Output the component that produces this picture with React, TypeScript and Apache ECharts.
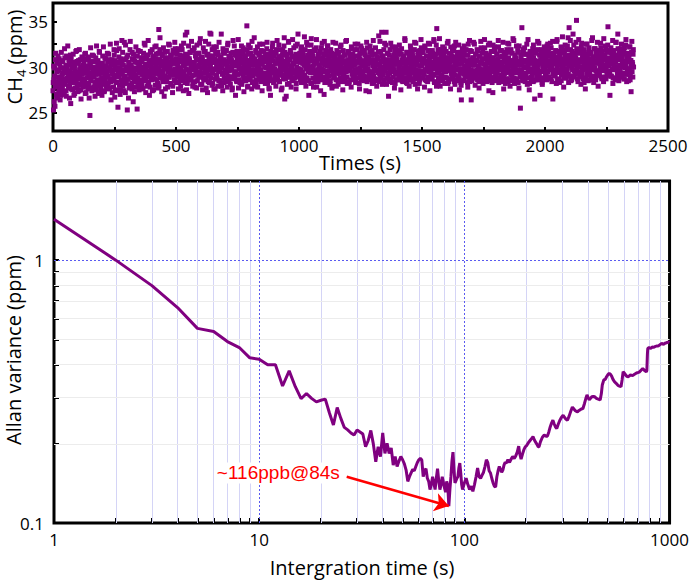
import React, { useEffect, useRef } from 'react';
import * as echarts from 'echarts';

// ---------- top panel: CH4 concentration time series (one reading per second; even & odd seconds) ----------
const sampleStepSeconds = 2;
const ch4From0 = [
  27.4, 25.3, 28.6, 29.9, 25.7, 30.8, 28.1, 27.0, 29.5, 26.6,
  31.2, 28.4, 29.7, 27.6, 30.3, 28.9, 26.9, 31.6, 29.1, 27.9,
  30.6, 28.2, 29.4, 27.3, 31.0, 28.7, 30.1, 26.8, 29.8, 28.5,
  32.3, 29.2, 27.7, 30.4, 28.0, 29.6, 26.0, 30.9, 28.8, 29.3,
  27.5, 31.4, 28.3, 29.9, 27.1, 30.2, 28.6, 29.0, 31.8, 27.8,
  29.4, 28.1, 30.7, 27.4, 29.7, 28.9, 30.0, 26.5, 29.2, 31.1,
  28.4, 29.8, 27.9, 30.5, 28.7, 29.3, 31.5, 27.2, 30.1, 28.8,
  29.5, 27.6, 30.8, 28.2, 29.1, 24.7, 30.3, 28.5, 29.9, 27.4,
  31.3, 28.9, 29.6, 27.8, 30.6, 28.3, 29.2, 31.0, 27.5, 29.8,
  28.6, 30.2, 27.1, 29.4, 31.7, 28.0, 29.9, 27.7, 30.4, 28.8,
  29.3, 31.2, 28.4, 30.0, 27.3, 29.7, 28.9, 30.9, 27.9, 29.5,
  28.2, 30.6, 29.0, 31.4, 27.6, 29.8, 28.7, 30.3, 26.4, 29.6,
  30.8, 28.5, 29.2, 27.8, 31.9, 28.9, 30.1, 27.4, 29.7, 32.6,
  28.3, 30.5, 25.6, 29.4, 31.1, 28.0, 29.9, 27.5, 30.7, 28.6,
  32.9, 29.3, 27.9, 30.2, 28.8, 32.7, 29.6, 27.2, 30.9, 28.4,
  29.8, 25.3, 31.3, 28.7, 30.4, 27.7, 29.5, 32.8, 28.9, 30.1,
  28.2, 31.6, 29.4, 26.2, 30.8, 28.6, 29.9, 27.8, 31.2, 29.1,
  30.5, 25.4, 28.8, 31.8, 29.6, 27.5, 30.3, 28.4, 29.7, 31.0,
  28.1, 30.6, 29.2, 27.6, 31.5, 28.9, 30.0, 32.4, 28.5, 29.8,
  30.9, 27.9, 29.4, 31.3, 28.3, 30.2, 26.9, 29.6, 31.7, 28.7,
  29.9, 30.7, 27.4, 31.1, 28.8, 30.4, 29.3, 32.2, 28.0, 30.0,
  31.4, 28.6, 29.7, 30.8, 27.7, 34.1, 29.2, 31.9, 28.9, 30.3,
  29.5, 27.3, 31.2, 28.4, 30.6, 29.9, 26.8, 31.6, 29.0, 30.1,
  28.7, 31.0, 29.8, 27.8, 30.5, 32.5, 28.9, 30.2, 29.4, 31.3,
  28.2, 30.7, 29.6, 27.2, 31.8, 29.1, 30.4, 28.5, 32.0, 29.7,
];
const ch4From1 = [
  28.3, 30.1, 26.2, 29.0, 27.8, 31.5, 28.9, 26.7, 30.4, 28.0,
  29.6, 27.2, 30.9, 28.5, 26.4, 29.9, 28.2, 30.7, 27.5, 29.3,
  27.0, 29.9, 28.6, 32.0, 28.1, 29.5, 27.4, 31.2, 28.8, 30.2,
  28.7, 27.9, 30.8, 26.6, 29.4, 31.3, 28.4, 27.6, 30.0, 29.1,
  30.5, 28.8, 26.9, 30.1, 29.6, 27.7, 31.7, 28.3, 30.6, 29.2,
  27.3, 30.4, 28.7, 31.9, 28.0, 30.8, 27.5, 29.9, 28.5, 31.0,
  30.2, 27.8, 29.4, 28.6, 31.4, 27.1, 29.8, 30.9, 28.2, 29.7,
  28.0, 31.1, 29.3, 26.6, 30.5, 28.8, 32.1, 29.0, 27.7, 30.6,
  29.4, 27.6, 31.2, 28.9, 30.0, 26.8, 29.5, 28.3, 32.3, 29.9,
  27.9, 30.7, 28.5, 29.2, 31.6, 27.3, 30.3, 28.6, 29.8, 26.9,
  30.4, 28.1, 32.2, 29.6, 27.4, 31.0, 28.7, 30.1, 29.4, 27.8,
  31.5, 29.0, 28.2, 30.8, 27.7, 29.9, 32.5, 28.4, 30.6, 29.3,
  27.2, 30.2, 29.7, 28.6, 31.3, 26.7, 30.7, 29.1, 28.3, 31.8,
  29.9, 27.5, 30.4, 28.9, 32.0, 29.5, 27.0, 30.9, 29.2, 28.1,
  30.3, 31.6, 28.5, 29.7, 27.4, 30.8, 29.0, 32.4, 28.2, 30.0,
  31.1, 28.7, 29.6, 26.6, 30.5, 29.3, 31.9, 28.0, 30.2, 29.8,
  27.6, 30.9, 28.8, 31.4, 29.5, 27.3, 30.6, 29.0, 32.2, 28.4,
  29.7, 31.2, 28.1, 30.4, 27.9, 30.0, 29.4, 31.7, 28.6, 30.8,
  29.2, 27.7, 31.0, 29.9, 28.5, 32.6, 29.6, 30.3, 27.2, 31.3,
  28.9, 30.1, 29.5, 32.9, 28.3, 30.7, 29.1, 27.8, 31.6, 30.2,
  28.6, 31.9, 29.8, 30.5, 27.5, 31.2, 29.3, 28.7, 30.9, 32.3,
  29.6, 30.4, 28.2, 31.5, 29.9, 27.9, 30.8, 33.2, 29.0, 30.6,
  28.8, 31.4, 30.1, 29.4, 32.1, 28.5, 30.3, 31.0, 27.6, 29.8,
  30.7, 28.4, 31.7, 29.5, 30.2, 28.9, 32.4, 29.7, 30.0, 28.1,
  31.1, 29.3, 30.6, 27.9, 31.5, 30.4, 28.6, 32.7, 29.8, 30.9,
];
const ch4From500 = [
  30.6, 28.3, 31.4, 29.2, 30.0, 27.6, 31.9, 29.5, 30.8, 28.7,
  29.9, 32.3, 28.5, 30.7, 29.3, 27.4, 31.2, 30.1, 28.8, 33.5,
  30.4, 29.0, 33.8, 28.2, 31.0, 29.7, 27.1, 30.9, 29.4, 31.6,
  28.6, 30.3, 29.8, 31.8, 27.9, 30.5, 29.1, 32.1, 28.4, 30.0,
  31.3, 29.6, 27.7, 30.8, 29.2, 31.5, 28.9, 30.2, 32.6, 29.4,
  28.1, 30.7, 29.9, 31.1, 27.5, 30.4, 28.8, 31.7, 29.3, 30.1,
  32.8, 28.6, 30.6, 29.5, 27.2, 31.4, 29.0, 30.9, 28.3, 33.7,
  30.2, 33.6, 29.7, 28.0, 31.2, 29.4, 30.8, 27.6, 31.9, 29.8,
  28.7, 30.5, 32.2, 29.1, 30.0, 27.9, 31.3, 28.5, 30.7, 29.6,
  31.0, 28.2, 33.6, 29.9, 30.4, 27.4, 31.6, 29.3, 28.8, 30.6,
  29.5, 31.8, 28.4, 30.3, 27.8, 32.4, 29.0, 30.8, 28.6, 31.1,
  30.0, 28.9, 31.5, 29.7, 27.5, 30.5, 32.9, 28.7, 30.2, 29.4,
  31.3, 26.9, 30.1, 28.5, 31.7, 29.2, 30.6, 27.7, 30.9, 29.8,
  28.3, 31.2, 29.6, 32.3, 28.1, 30.4, 29.1, 31.6, 27.3, 30.0,
  29.7, 31.0, 28.8, 30.7, 34.5, 29.3, 27.9, 31.4, 29.9, 30.3,
  28.6, 32.1, 29.4, 30.9, 27.6, 31.2, 29.0, 30.5, 28.4, 33.2,
  30.2, 29.5, 31.8, 28.1, 30.6, 29.8, 27.8, 31.5, 29.2, 30.1,
  32.5, 28.7, 30.4, 29.6, 31.1, 27.4, 30.8, 29.1, 31.7, 28.5,
  30.0, 29.3, 31.4, 28.9, 30.6, 32.7, 28.2, 29.9, 31.0, 27.7,
  30.3, 29.7, 26.9, 31.3, 28.6, 30.1, 32.2, 29.4, 30.7, 28.3,
  31.6, 29.0, 30.4, 27.9, 31.9, 29.6, 28.8, 30.9, 29.2, 32.4,
  28.4, 30.5, 29.8, 31.2, 27.5, 30.2, 29.1, 31.8, 28.7, 30.0,
  33.2, 26.5, 30.6, 29.5, 26.8, 31.4, 28.9, 30.3, 29.7, 32.8,
  28.2, 30.8, 29.3, 31.5, 27.8, 30.1, 29.9, 33.0, 28.6, 31.1,
  30.4, 28.8, 29.6, 32.3, 27.6, 30.7, 29.2, 31.0, 33.6, 29.8,
];
const ch4From501 = [
  29.4, 31.7, 28.9, 30.3, 32.0, 28.4, 30.8, 29.6, 31.3, 27.9,
  30.6, 29.1, 31.9, 28.7, 30.2, 32.6, 29.5, 30.9, 28.3, 31.4,
  29.8, 27.5, 31.1, 30.4, 28.6, 32.3, 29.3, 30.7, 31.6, 28.8,
  30.1, 32.8, 29.0, 30.5, 28.2, 31.8, 29.7, 30.3, 27.8, 31.2,
  29.5, 30.9, 32.4, 28.5, 30.0, 29.4, 31.5, 28.9, 30.6, 33.1,
  29.2, 31.0, 28.1, 30.8, 29.9, 32.1, 28.6, 30.4, 29.6, 31.7,
  30.3, 27.7, 31.3, 29.8, 30.6, 28.4, 32.5, 29.1, 30.0, 31.2,
  28.8, 30.7, 29.3, 31.9, 28.2, 30.5, 32.2, 29.7, 30.9, 27.6,
  31.4, 29.0, 30.2, 28.7, 31.6, 30.4, 29.5, 32.7, 28.5, 30.1,
  29.9, 31.1, 27.9, 30.6, 29.2, 32.0, 30.8, 28.3, 31.5, 29.7,
  30.3, 28.6, 31.8, 29.4, 30.0, 32.6, 28.9, 31.2, 29.6, 30.5,
  28.1, 31.0, 29.8, 30.7, 27.7, 31.6, 30.2, 29.0, 32.3, 28.8,
  30.4, 29.5, 31.3, 28.4, 30.9, 29.2, 33.0, 30.1, 28.6, 31.7,
  29.9, 30.6, 28.2, 31.4, 29.3, 30.8, 32.1, 28.7, 30.3, 29.6,
  31.2, 28.5, 30.0, 29.8, 31.9, 27.8, 30.5, 32.4, 29.1, 30.7,
  28.9, 31.5, 29.4, 30.2, 32.8, 28.3, 31.1, 29.7, 30.6, 27.9,
  30.9, 29.2, 31.6, 28.6, 30.4, 32.2, 29.5, 30.1, 28.8, 31.3,
  29.7, 30.8, 28.4, 31.8, 29.1, 30.3, 32.5, 28.9, 30.6, 29.3,
  31.0, 28.2, 30.7, 29.9, 32.0, 28.7, 31.4, 30.2, 29.4, 27.6,
  30.5, 29.0, 31.7, 28.5, 30.9, 29.6, 32.6, 30.0, 28.3, 31.2,
  29.8, 30.4, 28.8, 31.5, 29.3, 32.9, 28.6, 30.7, 29.5, 31.1,
  28.4, 30.2, 31.9, 29.2, 30.8, 27.7, 31.3, 29.7, 30.5, 32.3,
  29.0, 31.6, 28.7, 30.3, 29.9, 31.0, 28.1, 30.6, 32.7, 29.4,
  30.9, 28.9, 31.8, 29.6, 30.1, 28.5, 31.2, 30.4, 29.3, 32.1,
  28.8, 30.7, 29.5, 31.4, 28.2, 30.0, 32.5, 29.8, 30.6, 31.3,
];
const ch4From1000 = [
  31.2, 28.9, 30.5, 29.7, 32.0, 28.3, 30.9, 29.4, 31.5, 28.7,
  30.2, 33.3, 29.1, 31.0, 27.9, 30.6, 29.8, 32.4, 28.5, 30.3,
  26.9, 31.3, 29.6, 30.8, 28.2, 33.1, 29.9, 31.6, 28.8, 30.1,
  29.4, 31.9, 28.4, 30.7, 29.2, 32.1, 27.8, 30.4, 29.7, 31.1,
  28.6, 30.0, 31.7, 29.3, 27.4, 30.9, 29.8, 32.6, 28.9, 30.5,
  31.4, 27.0, 30.2, 29.5, 31.8, 28.7, 30.6, 29.0, 32.3, 28.3,
  30.8, 29.6, 31.2, 28.1, 30.3, 29.9, 31.5, 27.7, 30.0, 32.7,
  29.2, 30.7, 28.8, 31.1, 29.4, 30.5, 27.9, 31.8, 29.7, 30.2,
  28.5, 31.6, 30.1, 29.3, 32.2, 28.6, 30.9, 29.8, 31.0, 27.5,
  30.4, 29.1, 31.3, 28.9, 30.6, 32.8, 29.5, 30.0, 28.2, 31.7,
  29.9, 30.8, 28.4, 31.4, 29.6, 30.3, 27.8, 32.0, 29.2, 30.7,
  31.1, 28.7, 30.2, 29.7, 32.5, 28.3, 30.6, 29.4, 31.9, 28.8,
  30.5, 29.8, 31.2, 27.6, 30.9, 29.1, 32.3, 28.6, 30.1, 31.5,
  29.3, 30.7, 28.5, 31.8, 29.9, 30.4, 27.4, 31.0, 29.6, 32.1,
  28.9, 30.3, 29.2, 27.3, 31.6, 28.7, 30.8, 29.5, 31.3, 28.2,
  30.6, 32.9, 29.0, 30.1, 28.6, 31.4, 29.7, 30.5, 27.9, 31.1,
  29.4, 30.9, 33.4, 28.4, 30.2, 29.8, 31.7, 28.8, 33.8, 30.0,
  29.1, 31.2, 28.5, 30.7, 32.6, 29.6, 30.3, 33.8, 28.1, 30.8,
  29.9, 31.5, 26.8, 30.4, 29.3, 31.9, 28.7, 30.1, 29.5, 32.2,
  28.3, 30.6, 29.8, 31.3, 27.7, 30.9, 29.2, 31.0, 28.6, 30.3,
  31.8, 29.4, 30.5, 28.9, 32.4, 29.7, 30.2, 27.5, 31.4, 29.0,
  30.7, 28.4, 31.1, 29.9, 30.6, 33.1, 28.8, 30.0, 29.3, 31.6,
  28.2, 30.8, 29.6, 31.5, 27.9, 30.4, 29.1, 32.0, 28.7, 30.9,
  29.8, 31.2, 28.5, 30.3, 29.4, 32.7, 28.1, 30.6, 29.7, 31.0,
  30.2, 27.6, 31.7, 29.0, 30.8, 28.6, 31.3, 29.5, 33.0, 30.1,
];
const ch4From1001 = [
  29.7, 31.5, 28.6, 30.8, 29.3, 32.2, 28.9, 30.4, 31.1, 29.0,
  30.6, 28.3, 31.9, 29.8, 30.2, 32.7, 28.8, 31.3, 29.5, 30.9,
  28.5, 31.7, 30.0, 29.4, 32.4, 28.2, 30.7, 29.9, 31.2, 27.8,
  30.3, 29.6, 31.8, 28.7, 30.5, 33.0, 29.1, 30.9, 28.4, 31.4,
  29.8, 30.2, 28.9, 31.6, 29.2, 32.1, 30.6, 28.6, 31.0, 29.7,
  30.4, 32.8, 28.3, 30.8, 29.5, 31.3, 28.8, 30.1, 32.3, 29.4,
  31.7, 29.0, 30.5, 28.5, 31.9, 30.3, 29.6, 27.9, 31.2, 30.7,
  28.9, 31.4, 29.9, 30.2, 32.6, 28.6, 30.8, 29.3, 31.5, 28.1,
  30.6, 29.7, 31.1, 28.8, 30.0, 32.4, 29.5, 30.9, 28.4, 31.8,
  29.2, 30.5, 28.7, 31.3, 29.9, 30.3, 32.9, 28.9, 30.7, 29.6,
  31.6, 28.3, 30.4, 29.8, 31.0, 28.6, 32.2, 30.1, 29.4, 31.4,
  28.8, 30.9, 29.1, 31.9, 30.3, 28.5, 31.2, 29.7, 30.6, 32.5,
  29.3, 30.8, 28.2, 31.5, 29.9, 30.4, 28.7, 32.0, 29.5, 30.2,
  31.7, 29.0, 30.6, 28.9, 31.3, 30.0, 29.6, 32.7, 28.4, 30.9,
  29.8, 31.1, 28.6, 30.5, 32.3, 29.2, 30.7, 28.8, 31.8, 29.4,
  30.1, 28.3, 31.4, 29.9, 30.8, 32.1, 28.7, 30.3, 29.6, 31.0,
  28.5, 31.6, 30.2, 29.3, 32.8, 28.9, 30.6, 29.8, 31.2, 28.1,
  30.9, 29.4, 31.9, 28.6, 30.4, 29.7, 32.4, 30.0, 28.8, 31.5,
  29.1, 30.7, 28.4, 31.3, 30.2, 29.5, 32.6, 28.7, 30.8, 29.9,
  31.1, 28.9, 30.3, 29.6, 31.8, 28.2, 30.6, 32.2, 29.3, 30.9,
  28.6, 31.4, 29.8, 30.1, 28.9, 31.7, 30.5, 29.2, 32.0, 28.5,
  30.8, 29.4, 31.2, 28.7, 30.4, 32.9, 29.7, 30.2, 28.3, 31.6,
  29.9, 30.6, 28.8, 31.1, 29.3, 30.9, 32.3, 28.6, 30.0, 29.5,
  31.5, 28.4, 30.7, 29.8, 31.9, 28.9, 30.3, 32.6, 29.1, 30.5,
  28.7, 31.3, 29.6, 30.8, 28.2, 31.8, 30.1, 29.4, 32.1, 30.6,
];
const ch4From1500 = [
  30.9, 28.8, 31.6, 29.3, 30.4, 27.8, 32.1, 29.7, 30.6, 28.5,
  31.2, 30.0, 28.9, 32.6, 29.5, 30.7, 27.4, 31.4, 29.9, 30.3,
  28.7, 31.8, 29.2, 30.5, 33.0, 28.4, 31.1, 29.8, 30.2, 32.4,
  34.2, 29.6, 30.9, 28.3, 31.5, 29.4, 30.6, 27.9, 31.9, 29.1,
  30.4, 28.6, 32.2, 30.1, 29.7, 31.3, 28.2, 30.8, 29.5, 31.7,
  28.8, 30.3, 29.9, 32.8, 28.4, 31.0, 29.6, 30.5, 27.6, 31.4,
  30.0, 29.2, 31.8, 28.7, 30.7, 29.4, 32.3, 28.1, 30.2, 31.1,
  29.7, 30.6, 28.5, 31.6, 29.0, 30.9, 27.5, 31.2, 29.8, 28.3,
  26.4, 30.4, 32.0, 29.3, 30.8, 28.6, 31.5, 29.9, 30.1, 28.9,
  31.3, 29.5, 30.7, 27.8, 32.5, 29.1, 30.3, 28.4, 31.8, 29.7,
  26.4, 30.5, 29.2, 31.0, 28.8, 32.7, 29.6, 30.2, 28.0, 31.4,
  30.8, 29.4, 31.9, 28.6, 30.0, 29.8, 27.7, 31.2, 30.4, 28.9,
  32.1, 29.3, 30.6, 31.5, 28.2, 30.9, 29.7, 33.0, 28.7, 30.3,
  29.6, 31.1, 28.4, 30.7, 29.9, 32.4, 27.4, 31.3, 29.2, 30.5,
  28.8, 31.7, 30.1, 29.5, 27.2, 31.0, 29.8, 32.2, 28.5, 30.6,
  30.2, 28.9, 31.4, 29.4, 30.8, 32.9, 28.3, 30.4, 29.7, 31.8,
  29.1, 30.5, 28.6, 31.2, 30.0, 29.6, 27.6, 31.6, 29.3, 30.9,
  31.5, 28.7, 30.3, 29.9, 32.6, 28.4, 31.0, 29.5, 30.6, 27.9,
  30.1, 31.9, 29.2, 30.7, 28.8, 33.1, 29.8, 30.4, 28.2, 31.3,
  29.4, 30.8, 32.3, 28.6, 30.2, 29.7, 31.6, 27.7, 30.5, 29.0,
  25.5, 31.1, 29.6, 34.3, 30.3, 28.5, 31.8, 29.9, 30.7, 28.9,
  31.4, 29.3, 30.0, 32.5, 28.1, 30.6, 29.5, 31.2, 27.5, 30.9,
  29.8, 31.7, 28.7, 30.4, 29.2, 32.0, 28.4, 31.0, 30.1, 26.5,
  30.7, 29.4, 31.5, 28.9, 30.2, 32.8, 29.7, 30.5, 28.6, 31.3,
  26.9, 30.8, 29.5, 31.9, 28.3, 30.4, 29.9, 31.1, 28.8, 30.6,
];
const ch4From1501 = [
  29.5, 31.6, 28.8, 30.9, 29.2, 32.3, 28.6, 30.5, 31.2, 29.8,
  30.3, 28.4, 31.8, 29.6, 30.7, 32.5, 28.9, 31.1, 29.4, 30.2,
  28.7, 31.5, 30.4, 29.1, 32.8, 28.3, 30.8, 29.9, 31.4, 27.9,
  30.6, 29.3, 31.9, 28.8, 30.1, 33.1, 29.7, 30.5, 28.5, 31.3,
  29.0, 30.9, 28.6, 31.7, 29.5, 32.0, 30.3, 28.9, 31.0, 29.8,
  30.7, 32.6, 28.2, 30.4, 29.6, 31.5, 28.7, 30.0, 32.2, 29.3,
  31.2, 28.9, 30.8, 29.9, 31.8, 28.4, 30.5, 29.1, 32.7, 30.2,
  28.6, 31.4, 29.7, 30.3, 32.4, 28.8, 30.9, 29.4, 31.6, 28.0,
  30.4, 29.8, 31.1, 28.5, 30.7, 32.3, 29.2, 30.1, 28.9, 31.9,
  29.5, 30.6, 28.3, 31.3, 29.9, 30.4, 32.9, 28.7, 30.8, 29.6,
  31.7, 28.5, 30.2, 29.3, 31.0, 28.8, 32.5, 30.6, 29.0, 31.4,
  28.9, 30.7, 29.6, 31.8, 30.1, 28.4, 31.2, 29.8, 30.5, 32.8,
  29.4, 30.9, 28.6, 31.6, 29.7, 30.3, 28.8, 32.1, 29.2, 30.0,
  31.5, 29.1, 30.6, 28.7, 31.3, 30.4, 29.5, 32.6, 28.5, 30.8,
  29.9, 31.0, 28.3, 30.2, 32.4, 29.6, 30.7, 28.9, 31.7, 29.3,
  30.5, 28.6, 31.4, 29.8, 30.9, 32.2, 28.8, 30.1, 29.7, 31.1,
  28.4, 31.8, 30.3, 29.0, 32.7, 28.9, 30.6, 29.5, 31.2, 28.2,
  30.8, 29.4, 31.9, 28.7, 30.4, 29.8, 32.5, 30.2, 28.6, 31.6,
  29.2, 30.7, 28.5, 31.5, 30.0, 29.6, 32.9, 28.8, 30.9, 29.9,
  31.0, 28.7, 30.5, 29.4, 31.8, 28.3, 30.3, 32.3, 29.5, 30.6,
  28.9, 31.3, 29.7, 30.2, 28.6, 31.9, 30.6, 29.1, 32.1, 28.4,
  30.7, 29.3, 31.4, 28.8, 30.1, 33.0, 29.8, 30.4, 28.2, 31.7,
  29.6, 30.8, 28.9, 31.2, 29.4, 30.9, 32.4, 28.5, 30.0, 29.7,
  31.6, 28.6, 30.6, 29.9, 31.9, 28.7, 30.2, 32.6, 29.2, 30.5,
  28.8, 31.4, 29.5, 30.9, 28.1, 31.7, 30.3, 29.6, 32.2, 30.7,
];
const ch4From2000 = [
  31.4, 29.2, 30.7, 28.6, 32.3, 30.1, 29.5, 31.8, 28.9, 30.5,
  30.0, 32.6, 29.7, 31.2, 28.4, 30.8, 26.5, 31.5, 29.4, 30.3,
  29.1, 31.0, 30.6, 28.2, 32.8, 29.9, 30.4, 31.7, 28.7, 30.2,
  31.3, 29.6, 30.9, 28.5, 32.1, 30.0, 29.3, 31.6, 27.8, 30.7,
  29.8, 32.4, 30.3, 28.8, 31.1, 29.5, 30.6, 33.2, 28.3, 34.3,
  30.4, 29.0, 31.9, 30.1, 28.6, 31.4, 29.7, 33.6, 30.8, 28.9,
  31.2, 29.4, 30.5, 32.7, 35.1, 29.9, 30.2, 28.4, 31.5, 30.0,
  29.3, 31.8, 30.7, 28.1, 32.2, 29.6, 30.9, 31.3, 28.7, 30.4,
  31.6, 29.8, 27.6, 30.6, 32.5, 29.2, 31.0, 30.3, 28.5, 31.9,
  30.1, 29.5, 31.4, 28.8, 30.8, 32.9, 29.7, 30.2, 31.1, 28.3,
  30.6, 29.9, 32.0, 28.6, 31.5, 30.4, 29.1, 31.8, 27.9, 30.7,
  29.4, 31.2, 30.0, 32.6, 28.9, 30.5, 31.7, 29.6, 30.9, 28.4,
  31.3, 30.2, 29.8, 32.3, 28.7, 30.8, 29.3, 31.6, 34.4, 30.1,
  29.5, 31.0, 26.9, 30.4, 32.1, 29.0, 31.4, 30.7, 28.2, 30.3,
  31.8, 29.7, 30.6, 28.8, 32.7, 30.0, 31.2, 29.4, 33.6, 30.9,
  28.5, 31.5, 30.2, 29.6, 32.0, 28.9, 30.8, 31.1, 29.3, 30.5,
  31.9, 28.7, 30.4, 29.9, 32.4, 30.1, 28.4, 31.3, 29.8, 30.6,
  31.0, 29.2, 32.2, 28.6, 30.7, 27.3, 31.6, 29.5, 30.3, 31.4,
  30.0,
];
const ch4From2001 = [
  29.8, 31.9, 29.0, 31.2, 29.5, 32.5, 28.9, 30.7, 31.4, 30.1,
  30.6, 28.7, 32.1, 29.9, 31.0, 32.8, 29.2, 31.3, 29.7, 30.4,
  29.0, 31.8, 30.6, 29.4, 33.0, 28.6, 31.1, 30.2, 31.6, 28.3,
  30.9, 29.6, 32.2, 29.1, 30.4, 33.3, 30.0, 30.8, 28.8, 31.5,
  29.3, 31.2, 28.9, 31.9, 29.8, 32.3, 30.5, 29.2, 31.3, 30.1,
  31.0, 32.9, 28.5, 30.7, 29.9, 31.7, 29.0, 30.3, 32.4, 29.6,
  31.5, 29.2, 31.0, 30.2, 32.0, 28.7, 30.8, 29.4, 33.0, 30.5,
  28.9, 31.7, 30.0, 30.6, 32.6, 29.1, 31.2, 29.7, 31.9, 28.3,
  30.7, 30.1, 31.4, 28.8, 31.0, 32.5, 29.5, 30.4, 29.2, 32.1,
  29.8, 30.9, 28.6, 31.6, 30.2, 30.7, 33.2, 29.0, 31.1, 29.9,
  32.0, 28.8, 30.5, 29.6, 31.3, 29.1, 32.7, 30.9, 29.3, 31.7,
  29.2, 31.0, 29.9, 32.1, 30.4, 28.7, 31.5, 30.1, 30.8, 33.1,
  29.7, 31.2, 28.9, 31.9, 30.0, 30.6, 29.1, 32.4, 29.5, 30.3,
  31.8, 29.4, 30.9, 29.0, 31.6, 30.7, 29.8, 32.9, 28.8, 31.1,
  30.2, 31.3, 28.6, 30.5, 32.7, 29.9, 31.0, 29.2, 32.0, 29.6,
  30.8, 28.9, 31.7, 30.1, 31.2, 32.5, 29.1, 30.4, 30.0, 31.4,
  28.7, 32.1, 30.6, 29.3, 33.0, 29.2, 30.9, 29.8, 31.5, 28.5,
  31.1, 29.7, 32.2, 29.0, 30.7, 30.1, 32.8, 30.5, 28.9, 31.9,
];
const ch4Segments: [number, number[]][] = [
  [0, ch4From0], [1, ch4From1],
  [500, ch4From500], [501, ch4From501],
  [1000, ch4From1000], [1001, ch4From1001],
  [1500, ch4From1500], [1501, ch4From1501],
  [2000, ch4From2000], [2001, ch4From2001],
];
const topYLabelValues = [25, 30, 35];
const topYTickValues = [25, 27.5, 30, 32.5, 35];

// ---------- bottom panel: Allan deviation vs integration time ----------
const tauValues = [
  1, 2, 3, 4, 5, 6, 7, 8, 9, 10,
  11, 12, 13, 14, 15, 16, 17, 18, 19, 20,
  21, 22, 23, 24, 25, 26, 27, 28, 29, 30,
  31, 32, 33, 34, 35, 36, 37, 38, 39, 40,
  41, 42, 43, 44, 45, 46, 47, 48, 49, 50,
  51, 52, 53, 54, 55, 56, 57, 58, 59, 60,
  61, 62, 63, 64, 65, 66, 67, 68, 69, 70,
  71, 72, 73, 74, 75, 76, 77, 78, 79, 80,
  81, 82, 83, 84, 85, 86, 87, 88, 89, 90,
  91, 92, 93, 94, 95, 96, 97, 98, 99, 100,
  102, 104, 106, 108, 110, 112, 114, 116, 118, 120,
  122, 124, 126, 128, 130, 132, 134, 136, 138, 140,
  142, 144, 146, 148, 150, 152, 154, 156, 158, 160,
  163, 166, 169, 172, 175, 178, 181, 184, 186, 189,
  192, 195, 198, 201, 205, 209, 213, 216, 220, 225,
  229, 231, 235, 240, 245, 250, 254, 258, 262, 266,
  270, 274, 278, 282, 287, 292, 297, 303, 308, 313,
  318, 324, 330, 336, 341, 346, 351, 356, 362, 368,
  373, 378, 385, 391, 396, 401, 406, 412, 418, 425,
  432, 440, 449, 459, 465, 470, 478, 486, 493, 500,
  508, 515, 522, 530, 540, 549, 560, 570, 580, 587,
  594, 602, 610, 618, 625, 635, 645, 655, 664, 675,
  690, 705, 715, 728, 740, 755, 770, 775, 780, 783,
  795, 810, 826, 840, 855, 870, 880, 895, 915, 935,
  950, 965, 985, 1000,
];
const allanValues = [
  1.43, 1.0, 0.8, 0.66, 0.55, 0.535, 0.49, 0.465, 0.425, 0.42,
  0.4, 0.4, 0.332, 0.379, 0.33, 0.297, 0.311, 0.298, 0.289, 0.293,
  0.296, 0.262, 0.236, 0.275, 0.25, 0.231, 0.226, 0.22, 0.216, 0.226,
  0.222, 0.218, 0.195, 0.206, 0.225, 0.2, 0.171, 0.195, 0.179, 0.22,
  0.184, 0.201, 0.184, 0.193, 0.166, 0.179, 0.164, 0.172, 0.179, 0.174,
  0.168, 0.159, 0.144, 0.15, 0.155, 0.16, 0.158, 0.164, 0.17, 0.174,
  0.176, 0.174, 0.15, 0.158, 0.161, 0.148, 0.144, 0.134, 0.14, 0.15,
  0.142, 0.134, 0.148, 0.161, 0.145, 0.134, 0.14, 0.15, 0.143, 0.136,
  0.131, 0.144, 0.139, 0.116, 0.134, 0.15, 0.172, 0.186, 0.16, 0.142,
  0.145, 0.148, 0.15, 0.162, 0.169, 0.155, 0.14, 0.134, 0.138, 0.142,
  0.148, 0.14, 0.134, 0.138, 0.132, 0.14, 0.15, 0.162, 0.15, 0.148,
  0.152, 0.156, 0.164, 0.174, 0.17, 0.158, 0.155, 0.148, 0.142, 0.138,
  0.137, 0.15, 0.158, 0.164, 0.16, 0.156, 0.159, 0.166, 0.17, 0.169,
  0.174, 0.17, 0.175, 0.179, 0.176, 0.18, 0.186, 0.196, 0.184, 0.175,
  0.183, 0.19, 0.195, 0.197, 0.202, 0.206, 0.21, 0.213, 0.206, 0.2,
  0.195, 0.195, 0.204, 0.212, 0.216, 0.214, 0.214, 0.222, 0.232, 0.24,
  0.246, 0.238, 0.232, 0.229, 0.238, 0.246, 0.252, 0.257, 0.252, 0.248,
  0.246, 0.255, 0.266, 0.276, 0.272, 0.268, 0.266, 0.265, 0.268, 0.27,
  0.272, 0.272, 0.285, 0.298, 0.307, 0.3, 0.294, 0.298, 0.302, 0.303,
  0.302, 0.298, 0.296, 0.294, 0.31, 0.335, 0.35, 0.352, 0.36, 0.366,
  0.371, 0.368, 0.362, 0.352, 0.344, 0.34, 0.334, 0.332, 0.33, 0.35,
  0.376, 0.372, 0.366, 0.362, 0.36, 0.362, 0.366, 0.364, 0.365, 0.368,
  0.372, 0.374, 0.376, 0.382, 0.387, 0.38, 0.376, 0.38, 0.44, 0.461,
  0.465, 0.462, 0.468, 0.466, 0.47, 0.472, 0.471, 0.476, 0.482, 0.478,
  0.483, 0.485, 0.488, 0.486,
];
const bottomXLabelValues = [1, 10, 100, 1000];
const bottomXTickValues = [
  1, 2, 3, 4, 5, 6, 7, 8, 9,
  10, 20, 30, 40, 50, 60, 70, 80, 90,
  100, 200, 300, 400, 500, 600, 700, 800, 900, 1000,
];
const bottomYLabelValues = [0.1, 1];
const bottomYTickValues = [0.1, 0.2, 0.3, 0.4, 0.5, 0.6, 0.7, 0.8, 0.9, 1, 2];
const majorGridTau = [10, 100];
const minorGridTau = [2, 3, 4, 5, 6, 7, 8, 9, 20, 30, 40, 50, 60, 70, 80, 90, 200, 300, 400, 500, 600, 700, 800, 900];
const majorGridAllan = [1];
const minorGridAllan = [0.2, 0.3, 0.4, 0.5, 0.6, 0.7, 0.8, 0.9];
const annotationText = '~116ppb@84s';
const annotationTarget = [84, 0.116];
const annotationTail = [26.7, 0.15];
const annotationLabelAt = [12.4, 0.155];

const PURPLE = '#800080';
const FONT = 'Open Sans';

export default function App() {
  const ref = useRef<HTMLDivElement>(null);

  useEffect(() => {
    if (!ref.current) return;
    const chart = echarts.init(ref.current, undefined, { renderer: 'svg' });

    const scatterData: number[][] = [];
    ch4Segments.forEach(([start, vals]) => {
      vals.forEach((v, i) => scatterData.push([start + sampleStepSeconds * i, v]));
    });
    const allanData = tauValues.map((t, i) => [t, allanValues[i]]);

    const axisLabelStyle = { color: '#000', fontSize: 17, fontFamily: FONT };
    const tickStyle = { color: '#000', width: 2 };

    const gridLines: any[] = [];
    minorGridTau.forEach((t) =>
      gridLines.push({ xAxis: t, lineStyle: { color: '#d4d4f6', width: 1, type: 'solid' } })
    );
    minorGridAllan.forEach((v) =>
      gridLines.push({ yAxis: v, lineStyle: { color: '#ececec', width: 1, type: 'solid' } })
    );
    majorGridTau.forEach((t) =>
      gridLines.push({ xAxis: t, lineStyle: { color: '#5a5af0', width: 1, type: [2, 2] } })
    );
    majorGridAllan.forEach((v) =>
      gridLines.push({ yAxis: v, lineStyle: { color: '#5a5af0', width: 1, type: [2, 2] } })
    );

    const fmt = (v: number) => String(Number(v.toPrecision(3)));

    chart.setOption({
      animation: false,
      textStyle: { fontFamily: FONT },
      grid: [
        { left: 53, top: 3, width: 615, height: 128, show: true, borderColor: '#000', borderWidth: 3, backgroundColor: 'transparent' },
        { left: 54, top: 181, width: 616, height: 342, show: true, borderColor: '#000', borderWidth: 3, backgroundColor: 'transparent' },
      ],
      xAxis: [
        {
          gridIndex: 0, type: 'value', min: 0, max: 2500, interval: 500,
          axisLine: { show: false },
          axisTick: { show: true, inside: true, length: 4, lineStyle: tickStyle },
          minorTick: { show: true, splitNumber: 2, length: 4, lineStyle: tickStyle },
          splitLine: { show: false },
          axisLabel: { ...axisLabelStyle, margin: 6, formatter: (v: number) => String(v) },
        },
        {
          gridIndex: 1, type: 'log', logBase: 10, min: 1, max: 1000,
          axisLine: { show: false },
          axisTick: { show: true, inside: true, length: 5, lineStyle: tickStyle, customValues: bottomXTickValues },
          minorTick: { show: false },
          splitLine: { show: false },
          axisLabel: { ...axisLabelStyle, margin: 8, customValues: bottomXLabelValues, formatter: fmt },
        },
      ],
      yAxis: [
        {
          gridIndex: 0, type: 'value', min: 23, max: 37,
          axisLine: { show: false },
          axisTick: { show: true, inside: true, length: 4, lineStyle: tickStyle, customValues: topYTickValues },
          splitLine: { show: false },
          axisLabel: { ...axisLabelStyle, margin: 5, customValues: topYLabelValues },
        },
        {
          gridIndex: 1, type: 'log', logBase: 10, min: 0.1, max: 2,
          axisLine: { show: false },
          axisTick: { show: true, inside: true, length: 5, lineStyle: tickStyle, customValues: bottomYTickValues },
          minorTick: { show: false },
          splitLine: { show: false },
          axisLabel: { ...axisLabelStyle, margin: 10, customValues: bottomYLabelValues, formatter: fmt },
        },
      ],
      series: [
        {
          type: 'scatter', xAxisIndex: 0, yAxisIndex: 0,
          data: scatterData, symbol: 'rect', symbolSize: 5,
          itemStyle: { color: PURPLE, opacity: 1 },
          z: 3, large: false,
        },
        {
          type: 'line', xAxisIndex: 1, yAxisIndex: 1,
          data: allanData, showSymbol: false, symbol: 'none',
          lineStyle: { opacity: 0 },
          z: 1, silent: true,
          markLine: { z: 1, silent: true, symbol: 'none', label: { show: false }, data: gridLines },
        },
        {
          type: 'line', xAxisIndex: 1, yAxisIndex: 1,
          data: allanData, showSymbol: false, symbol: 'none',
          lineStyle: { color: PURPLE, width: 3 },
          z: 4,
          markLine: {
            z: 6, silent: true, symbol: ['none', 'arrow'], symbolSize: 14,
            label: { show: false },
            lineStyle: { color: '#ff0000', width: 2.5, type: 'solid' },
            data: [[{ coord: annotationTail }, { coord: annotationTarget }]],
          },
          markPoint: {
            z: 6, silent: true, symbol: 'rect', symbolSize: 1,
            itemStyle: { color: 'transparent' },
            data: [{ coord: annotationLabelAt }],
            label: {
              show: true, position: 'inside', formatter: annotationText,
              color: '#ff0000', fontSize: 19, fontFamily: 'Liberation Sans',
              backgroundColor: '#ffffff', padding: [1, 2],
            },
          },
        },
      ],
      graphic: [
        {
          type: 'text', x: 14, y: 57, rotation: Math.PI / 2,
          style: {
            text: '{a|CH}{s|4}{a| (ppm)}',
            align: 'center', verticalAlign: 'middle',
            rich: {
              a: { fontSize: 20, fontFamily: FONT, fill: '#000', color: '#000', lineHeight: 26 },
              s: { fontSize: 13, fontFamily: FONT, fill: '#000', color: '#000', lineHeight: 14, verticalAlign: 'bottom' },
            },
          },
        },
        {
          type: 'text', x: 360, y: 162,
          style: { text: 'Times (s)', fontSize: 20, fontFamily: FONT, fill: '#000', align: 'center', verticalAlign: 'middle' },
        },
        {
          type: 'text', x: 13, y: 350, rotation: Math.PI / 2,
          style: { text: 'Allan variance (ppm)', fontSize: 20, fontFamily: FONT, fill: '#000', align: 'center', verticalAlign: 'middle' },
        },
        {
          type: 'text', x: 362, y: 567,
          style: { text: 'Intergration time (s)', fontSize: 20, fontFamily: FONT, fill: '#000', align: 'center', verticalAlign: 'middle' },
        },
      ],
    });

    return () => chart.dispose();
  }, []);

  return (
    <div
      ref={ref}
      style={{ position: 'absolute', left: 0, top: 0, width: 692, height: 581, background: '#fff' }}
    />
  );
}
